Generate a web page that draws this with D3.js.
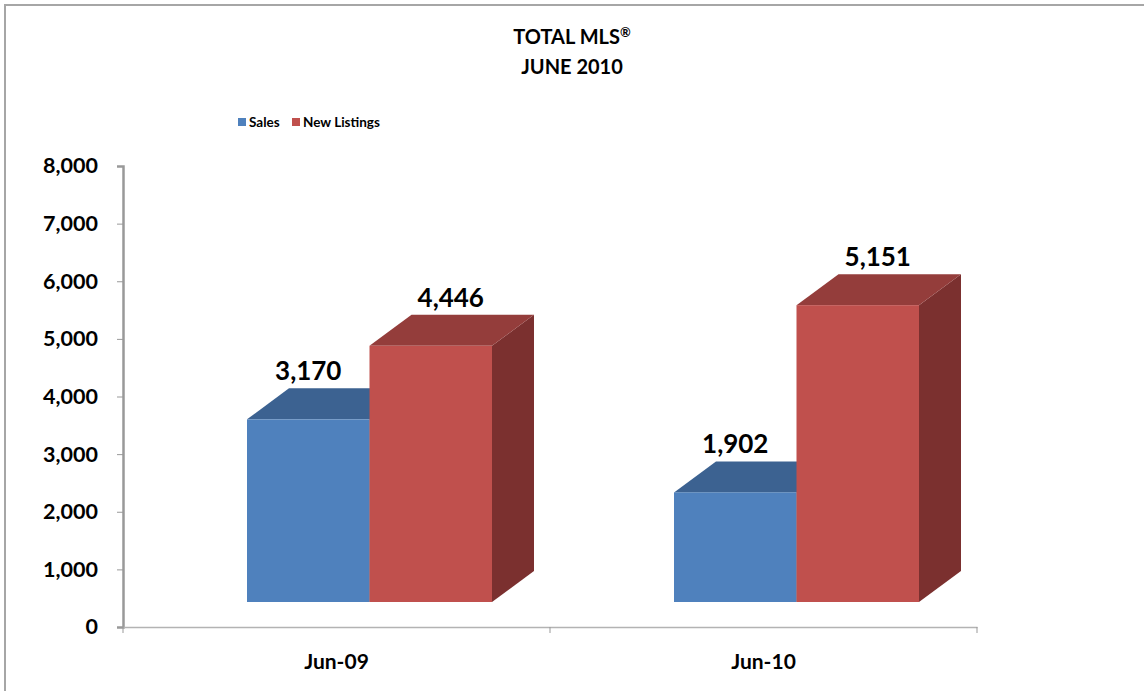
<!DOCTYPE html>
<html lang="en">
<head>
  <meta charset="UTF-8" />
  <title>Total MLS - June 2010</title>
  <script src="https://d3js.org/d3.v7.min.js"></script>
  <style>
    body {
      margin: 0;
      padding: 0;
      background-color: #fff;
    }

    svg {
      display: block;
      font-family: Lato, "Liberation Sans", sans-serif;
      font-weight: bold;
    }
  </style>
</head>
<body>
  <svg width="1144" height="691"></svg>

  <script>
    const categories = ["Jun-09", "Jun-10"];
    const seriesNames = ["Sales", "New Listings"];
    const sales = [3170, 1902];
    const newListings = [4446, 5151];
    const yTicks = [0, 1000, 2000, 3000, 4000, 5000, 6000, 7000, 8000];

    const colors = {
      "Sales": { front: "#4F81BD", top: "#3C6291", side: "#2F4F75" },
      "New Listings": { front: "#C0504D", top: "#943D3B", side: "#7B302F" }
    };

    const svg = d3.select("svg");

    // frame: only top and left edges are visible in the picture
    svg.append("path")
      .attr("d", "M5,691 V5 H1144")
      .attr("fill", "none")
      .attr("stroke", "#a6a6a6")
      .attr("stroke-width", 2);

    const plot = { left: 123, right: 977, top: 166, bottom: 627 };
    const depth = { dx: 42, dy: -31 };
    const floorLift = 25;

    const x0 = d3.scaleBand().domain(categories).range([plot.left, plot.right]);
    const x1 = d3.scaleBand().domain(seriesNames).range([124, 369]);
    const y = d3.scaleLinear().domain([0, 8000]).range([plot.bottom, plot.top]);

    // title
    const t1 = svg.append("text")
      .attr("x", 572).attr("y", 44)
      .attr("text-anchor", "middle")
      .style("font-size", "20px");
    t1.append("tspan").text("TOTAL MLS");
    t1.append("tspan").attr("dy", -7).style("font-size", "13px").text("®");
    svg.append("text")
      .attr("x", 572).attr("y", 74)
      .attr("text-anchor", "middle")
      .style("font-size", "20px")
      .text("JUNE 2010");

    // legend
    const legend = svg.append("g").attr("transform", "translate(238,116)");
    const legendX = [0, 54];
    seriesNames.forEach((s, i) => {
      const g = legend.append("g").attr("transform", `translate(${legendX[i]},0)`);
      g.append("rect").attr("width", 8).attr("height", 8).attr("y", 2).attr("fill", colors[s].front);
      g.append("text").attr("x", 11).attr("y", 11).style("font-size", "13.5px").text(s);
    });

    // y axis
    const yAxis = d3.axisLeft(y)
      .tickValues(yTicks)
      .tickSize(6)
      .tickPadding(19)
      .tickFormat(d3.format(","));
    const yg = svg.append("g")
      .attr("transform", `translate(${plot.left},0)`)
      .call(yAxis);
    yg.select(".domain").attr("stroke", "#999").attr("stroke-width", 2.5);
    yg.selectAll(".tick line").attr("stroke", "#999").attr("stroke-width", 1);
    yg.selectAll(".tick text")
      .attr("fill", "#000")
      .style("font-size", "21.5px")
      .style("font-family", "Lato, 'Liberation Sans', sans-serif")
      .style("font-weight", "bold");

    // x axis
    const xAxis = d3.axisBottom(x0).tickSize(0).tickPadding(27);
    const xg = svg.append("g")
      .attr("transform", `translate(0,${plot.bottom})`)
      .call(xAxis);
    xg.select(".domain").attr("stroke", "#b3b3b3").attr("stroke-width", 1.5);
    xg.selectAll(".tick text")
      .attr("fill", "#000")
      .style("font-size", "21px")
      .style("font-family", "Lato, 'Liberation Sans', sans-serif")
      .style("font-weight", "bold");
    xg.selectAll(".sep")
      .data([plot.left, (plot.left + plot.right) / 2, plot.right])
      .enter().append("line")
      .attr("x1", d => d).attr("x2", d => d)
      .attr("y1", 0).attr("y2", 6)
      .attr("stroke", "#999");

    // bars
    const bars = [];
    categories.forEach((c, i) => {
      bars.push({ cat: c, series: "Sales", value: sales[i] });
      bars.push({ cat: c, series: "New Listings", value: newListings[i] });
    });

    const barG = svg.append("g");
    bars.forEach(b => {
      const xl = x0(b.cat) + x1(b.series);
      const xr = xl + x1.bandwidth();
      const yt = y(b.value) - floorLift;
      const yb = y(0) - floorLift;
      const col = colors[b.series];
      const g = barG.append("g");

      g.append("path")
        .attr("d", `M${xr},${yt} L${xr + depth.dx},${yt + depth.dy} L${xr + depth.dx},${yb + depth.dy} L${xr},${yb} Z`)
        .attr("fill", col.side);
      g.append("path")
        .attr("d", `M${xl},${yt} L${xl + depth.dx},${yt + depth.dy} L${xr + depth.dx},${yt + depth.dy} L${xr},${yt} Z`)
        .attr("fill", col.top);
      g.append("rect")
        .attr("x", xl).attr("y", yt)
        .attr("width", x1.bandwidth()).attr("height", yb - yt)
        .attr("fill", col.front);
    });

    // value labels
    const labelShift = { "Sales": 0, "New Listings": 20 };
    svg.append("g").selectAll("text")
      .data(bars)
      .enter().append("text")
      .attr("x", d => x0(d.cat) + x1(d.series) + x1.bandwidth() / 2 + labelShift[d.series])
      .attr("y", d => y(d.value) - floorLift + depth.dy - 8)
      .attr("text-anchor", "middle")
      .style("font-size", "26px")
      .text(d => d3.format(",")(d.value));
  </script>
</body>
</html>
